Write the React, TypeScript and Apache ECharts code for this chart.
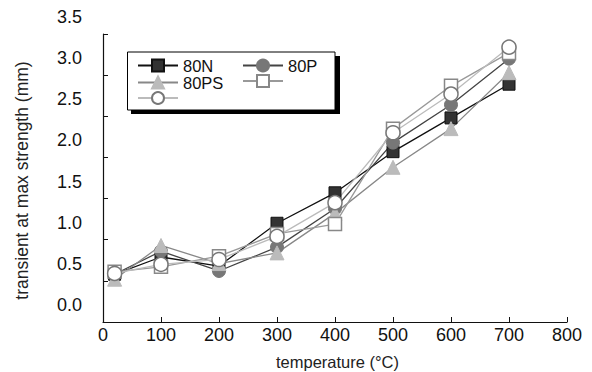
import React, { useEffect, useRef } from "react";
import * as echarts from "echarts";

const temperatures = [20, 100, 200, 300, 400, 500, 600, 700];
const s80N = [0.58, 0.79, 0.68, 1.2, 1.57, 2.07, 2.48, 2.89];
const s80P = [0.58, 0.86, 0.62, 0.91, 1.38, 2.18, 2.64, 3.2];
const s80PS = [0.52, 0.93, 0.71, 0.84, 1.32, 1.88, 2.35, 3.03];
const sOpenSquare = [0.61, 0.67, 0.8, 1.07, 1.19, 2.35, 2.87, 3.27];
const sOpenCircle = [0.59, 0.7, 0.76, 1.04, 1.45, 2.3, 2.77, 3.34];
const seriesNames = ["80N", "80P", "80PS", "series4", "series5"];
const labelledNames = ["80N", "80P", "80PS"];

const FONT = "Liberation Sans, Arial, sans-serif";

export default function App() {
  const ref = useRef<HTMLDivElement>(null);
  useEffect(() => {
    if (!ref.current) return;
    const chart = echarts.init(ref.current, undefined, { renderer: "svg" });
    const pair = (ys: number[]) => temperatures.map((x, i) => [x, ys[i]]);
    const fmt = (name: string) => (labelledNames.includes(name) ? name : "");
    const legendCommon = {
      orient: "vertical" as const,
      itemWidth: 40,
      itemHeight: 15,
      itemGap: 0,
      formatter: fmt,
      textStyle: { fontSize: 16.5, lineHeight: 15, color: "#111", fontFamily: FONT },
      selectedMode: false,
    };
    chart.setOption({
      animation: false,
      textStyle: { fontFamily: FONT },
      grid: { left: 103, right: 25, top: 33, bottom: 50 },
      xAxis: {
        type: "value",
        min: 0,
        max: 800,
        interval: 100,
        axisLine: { lineStyle: { color: "#111", width: 1.2 } },
        axisTick: { inside: true, length: 5, lineStyle: { color: "#111" } },
        splitLine: { show: false },
        axisLabel: { fontSize: 18, color: "#111", margin: 4, fontFamily: FONT },
      },
      yAxis: {
        type: "value",
        min: 0,
        max: 3.5,
        interval: 0.5,
        axisLine: { show: true, lineStyle: { color: "#111", width: 1.2 } },
        axisTick: { show: true, inside: true, length: 5, lineStyle: { color: "#111" } },
        splitLine: { show: false },
        axisLabel: {
          fontSize: 18,
          color: "#111",
          margin: 21,
          fontFamily: FONT,
          verticalAlign: "bottom",
          lineHeight: 34,
          formatter: (v: number) => v.toFixed(1),
        },
      },
      legend: [
        { ...legendCommon, left: 132, top: 52, data: ["80N", "80PS", "series5"] },
        { ...legendCommon, left: 237, top: 52, data: ["80P", "series4"] },
      ],
      graphic: [
        { type: "rect", z: 1, shape: { x: 131, y: 56, width: 209, height: 58 }, style: { fill: "#000" } },
        { type: "rect", z: 1, shape: { x: 127.5, y: 52, width: 207.5, height: 58 }, style: { fill: "#fff", stroke: "#000", lineWidth: 1 } },
        {
          type: "text",
          x: 30.5,
          y: 180.5,
          rotation: Math.PI / 2,
          style: {
            text: "transient at max strength (mm)",
            fontSize: 17.5,
            fontFamily: FONT,
            fill: "#222",
            textAlign: "center",
            textVerticalAlign: "bottom",
          },
        },
        {
          type: "text",
          x: 337.5,
          y: 353,
          style: {
            text: "temperature (°C)",
            fontSize: 16.5,
            fontFamily: FONT,
            fill: "#222",
            textAlign: "center",
            textVerticalAlign: "top",
          },
        },
      ],
      series: [
        {
          name: seriesNames[0], type: "line", data: pair(s80N), symbol: "rect", symbolSize: 12,
          itemStyle: { color: "#333", borderColor: "#111", borderWidth: 1 },
          lineStyle: { color: "#111", width: 1.3 },
        },
        {
          name: seriesNames[1], type: "line", data: pair(s80P), symbol: "circle", symbolSize: 13,
          itemStyle: { color: "#777", borderColor: "#777", borderWidth: 1 },
          lineStyle: { color: "#444", width: 1.3 },
        },
        {
          name: seriesNames[2], type: "line", data: pair(s80PS), symbol: "triangle", symbolSize: 14,
          itemStyle: { color: "#bbb", borderColor: "#bbb", borderWidth: 1 },
          lineStyle: { color: "#888", width: 1.3 },
        },
        {
          name: seriesNames[3], type: "line", data: pair(sOpenSquare), symbol: "rect", symbolSize: 13,
          itemStyle: { color: "#fff", borderColor: "#888", borderWidth: 1.5 },
          lineStyle: { color: "#999", width: 1.3 },
        },
        {
          name: seriesNames[4], type: "line", data: pair(sOpenCircle), symbol: "circle", symbolSize: 14,
          itemStyle: { color: "#fff", borderColor: "#777", borderWidth: 1.5 },
          lineStyle: { color: "#bbb", width: 1.3 },
        },
      ],
    });
    return () => chart.dispose();
  }, []);
  return <div ref={ref} style={{ position: "absolute", left: 0, top: 0, width: 592, height: 372 }} />;
}
